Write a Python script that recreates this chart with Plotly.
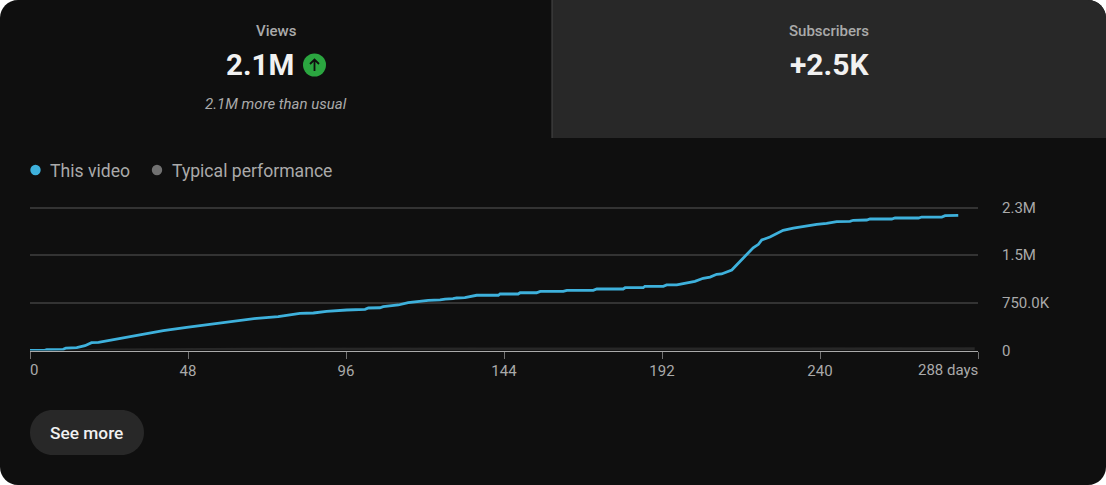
import plotly.graph_objects as go

W, H = 1106, 485

# Cumulative views by day since publish
video_days = [0, 4.2, 5.1, 10.1, 10.9, 14.2, 16.7, 18.7, 20.8, 26.3, 32.4, 40.5, 47.6, 54.7, 60.8, 68.9, 75.4, 82, 86.1,
              90.1, 96.2, 101.8, 102.8, 106.3, 107.3, 111.9, 114.9, 119.5, 121, 124.6, 126.1, 128.5, 129.6, 132.1,
              135.7, 142.3, 142.8, 148.3, 148.9, 153.9, 155, 162, 163.1, 171.1, 172.2, 180.2, 180.8, 186.3, 186.8,
              192.4, 193.4, 196.5, 200, 202, 204.5, 206.6, 208.6, 210.1, 213.2, 219.7, 221.3, 222.3, 224.8, 228.8,
              231.9, 234.9, 239, 242, 245.1, 249.1, 250.1, 254.2, 255.2, 261.8, 262.8, 269.9, 270.9, 277, 278, 282]
video_views_k = [0, 0, 13, 19, 39, 44, 76, 123, 129, 181, 239, 312, 365, 412, 453, 507, 532, 585, 590,
                 617, 637, 648, 669, 673, 689, 716, 752, 774, 790, 795, 810, 815, 826, 831,
                 869, 869, 889, 889, 909, 909, 931, 931, 947, 947, 968, 968, 988, 988, 1010,
                 1010, 1031, 1031, 1073, 1089, 1136, 1156, 1199, 1204, 1267, 1617, 1671, 1739, 1786, 1891,
                 1927, 1954, 1986, 2001, 2027, 2033, 2049, 2053, 2069, 2069, 2085, 2085, 2100, 2100, 2121, 2127]

# Typical range shown as a thin band above the baseline
typical_days = [0, 24, 72, 144, 216, 287]
typical_views_k = [0, 30, 45, 50, 50, 50]

x_ticks = [48, 96, 144, 192, 240]
y_ticks_k = [0, 750, 1500, 2250]
y_labels = ["0", "750.0K", "1.5M", "2.3M"]


def fx(px):
    return px / W


def fy(py):
    return 1 - py / H


def round_path(x0, y0, x1, y1, radii):
    """Rounded rectangle in paper fractions from pixel edges; radii run tl, tr, br, bl."""
    k = 0.4477
    tl, tr, br, bl = radii
    pt = lambda x, y: f"{fx(x):.5f},{fy(y):.5f}"
    return (
        f"M{pt(x0 + tl, y0)} L{pt(x1 - tr, y0)} "
        f"C{pt(x1 - tr * k, y0)} {pt(x1, y0 + tr * k)} {pt(x1, y0 + tr)} "
        f"L{pt(x1, y1 - br)} "
        f"C{pt(x1, y1 - br * k)} {pt(x1 - br * k, y1)} {pt(x1 - br, y1)} "
        f"L{pt(x0 + bl, y1)} "
        f"C{pt(x0 + bl * k, y1)} {pt(x0, y1 - bl * k)} {pt(x0, y1 - bl)} "
        f"L{pt(x0, y0 + tl)} "
        f"C{pt(x0, y0 + tl * k)} {pt(x0 + tl * k, y0)} {pt(x0 + tl, y0)} Z"
    )


def rpanel(path, color):
    return dict(type="path", path=path, xref="paper", yref="paper",
                fillcolor=color, line=dict(width=0), layer="below")


def dot(cx, cy, r, color):
    return dict(type="circle", xref="paper", yref="paper", x0=fx(cx - r), x1=fx(cx + r),
                y0=fy(cy + r), y1=fy(cy - r), fillcolor=color, line=dict(width=0), layer="below")


def label(text, x, y, size, color, weight=400, anchor="center", style="normal"):
    return dict(text=text, x=fx(x), y=fy(y), xref="paper", yref="paper", showarrow=False,
                xanchor=anchor, yanchor="middle",
                font=dict(family="Roboto", size=size, color=color, weight=weight, style=style))


CARD = "#0f0f0f"
PANEL = "#282828"
MUTED = "#aaaaaa"
BLUE = "#3eb1dc"

fig = go.Figure()
fig.add_trace(go.Scatter(x=typical_days, y=[v * 1000 for v in typical_views_k], mode="lines", line=dict(width=0),
                         fill="tozeroy", fillcolor="#272727", name="Typical performance", hoverinfo="skip"))
fig.add_trace(go.Scatter(x=video_days, y=[v * 1000 for v in video_views_k], mode="lines",
                         line=dict(color=BLUE, width=2.8), name="This video", cliponaxis=False))

shapes = [
    rpanel(round_path(0, 0, W, H, (18, 18, 18, 18)), CARD),
    rpanel(round_path(552, 0, W, 138, (0, 18, 0, 0)), PANEL),
    dict(type="line", xref="paper", yref="paper", x0=fx(552), x1=fx(552), y0=fy(0), y1=fy(138),
         line=dict(color="#484848", width=1), layer="below"),
    dot(314.5, 65, 11.5, "#2ba640"),
    dict(type="path", xref="paper", yref="paper", layer="above", fillcolor="rgba(0,0,0,0)",
         line=dict(color=CARD, width=1.8),
         path=f"M{fx(314.5):.5f},{fy(71):.5f} L{fx(314.5):.5f},{fy(59.5):.5f} "
              f"M{fx(310):.5f},{fy(64):.5f} L{fx(314.5):.5f},{fy(59.5):.5f} L{fx(319):.5f},{fy(64):.5f}"),
    dot(35.5, 170, 5.2, BLUE),
    dot(157, 170, 5.2, "#717171"),
    rpanel(round_path(30, 410, 144, 455, (22.5, 22.5, 22.5, 22.5)), PANEL),
]

annotations = [
    label("Views", 276, 31, 15, MUTED, 500),
    label("2.1M", 259.5, 65, 29.5, "#f1f1f1", 700),
    label("2.1M more than usual", 276, 104, 15, MUTED, 400, style="italic"),
    label("Subscribers", 829, 31, 15, MUTED, 500),
    label("+2.5K", 829.5, 65, 30, "#f1f1f1", 700),
    label("This video", 48, 170.5, 17.6, MUTED, anchor="left"),
    label("Typical performance", 170, 170.5, 17.6, MUTED, anchor="left"),
    label("See more", 86.5, 432.5, 17.3, "#f1f1f1", 500),
    label("0", 28, 369.5, 15, MUTED, anchor="left"),
    label("288 days", 980, 369.5, 15, MUTED, anchor="right"),
]

fig.update_layout(
    width=W, height=H, margin=dict(l=0, r=0, t=0, b=0, autoexpand=False),
    paper_bgcolor="#ffffff", plot_bgcolor="rgba(0,0,0,0)",
    showlegend=False, shapes=shapes, annotations=annotations,
    xaxis=dict(domain=[fx(30), fx(978)], range=[0, 288], tickmode="array",
               tickvals=[0] + x_ticks + [288], ticktext=[""] + [str(v) for v in x_ticks] + [""],
               ticks="outside", ticklen=7, tickwidth=1, tickcolor="#717171",
               tickfont=dict(family="Roboto", size=15, color=MUTED),
               showgrid=False, zeroline=False, showline=True, linecolor="#aaaaaa", linewidth=1,
               ticklabelstandoff=-1),
    # Headroom above the top tick keeps its gridline drawn
    yaxis=dict(domain=[fy(350.5), fy(206.23)], range=[0, 2270000], side="right", tickmode="array",
               tickvals=[v * 1000 for v in y_ticks_k], ticktext=y_labels,
               tickfont=dict(family="Roboto", size=15, color=MUTED),
               showgrid=True, gridcolor="#333333", gridwidth=1.5, zeroline=False, showline=False,
               ticks="", ticklabelstandoff=23),
)

fig.write_html("out.html", config=dict(displayModeBar=False))
